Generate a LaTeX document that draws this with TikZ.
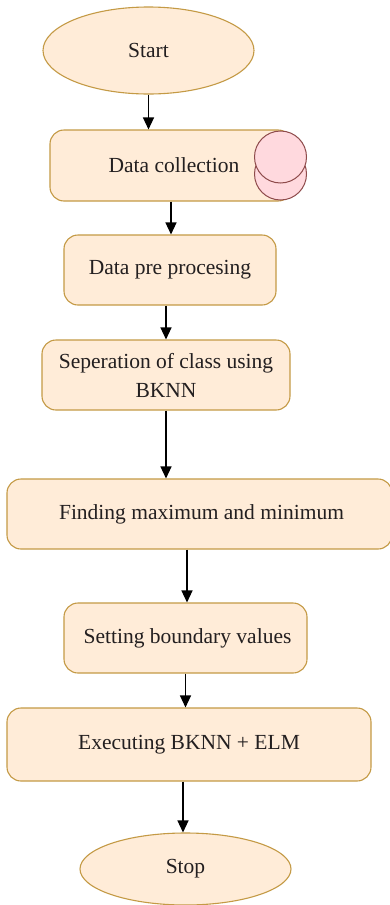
\documentclass[tikz,border=0pt]{standalone}
\usepackage{fontspec}
\setmainfont{Liberation Serif}
\newfontfamily\libserif{Liberation Serif}
\usetikzlibrary{arrows.meta,shapes.geometric}
\definecolor{boxfill}{HTML}{FFECD8}
\definecolor{boxline}{HTML}{C49A45}
\definecolor{cfill}{HTML}{FFD9DE}
\definecolor{cline}{HTML}{8E4B4B}
\definecolor{txt}{HTML}{231F20}
\begin{document}
\begin{tikzpicture}[x=1pt,y=1pt,
  every node/.style={font=\libserif\fontsize{21.5}{29}\selectfont, text=txt},
  procbox/.style={draw=boxline, fill=boxfill, line width=1.1pt, rounded corners=14pt, align=center, inner sep=0pt},
  term/.style={ellipse, draw=boxline, fill=boxfill, line width=1.1pt, inner sep=0pt},
  disk/.style={circle, draw=cline, fill=cfill, line width=1pt, minimum size=52pt, inner sep=0pt},
  arr/.style={draw=black, line width=1.3pt, -{Triangle[length=12pt,width=11pt]}}]
\useasboundingbox (0,0) rectangle (390,-905);
\fill[white] (0,0) rectangle (390,-905);

\node[term, minimum width=211pt, minimum height=87pt] (start) at (148.5,-50.5) {\raisebox{-4pt}{Start}};

\node[procbox, minimum width=242pt, minimum height=71pt] (dc) at (171,-165.5) {\hspace*{6pt}Data collection};
\node[disk] (d2) at (280.5,-174) {};
\node[disk] (d1) at (280.5,-157) {};

\node[procbox, minimum width=212pt, minimum height=70pt] (pre) at (170,-270) {Data pre procesing};

\node[procbox, minimum width=248pt, minimum height=70pt] (sep) at (166,-375) {Seperation of class using\\BKNN};

\node[procbox, minimum width=385pt, minimum height=70pt] (find) at (199.5,-514) {\hspace*{4pt}Finding maximum and minimum};

\node[procbox, minimum width=243pt, minimum height=70pt] (set) at (185.5,-638) {\hspace*{4pt}Setting boundary values};

\node[procbox, minimum width=364pt, minimum height=73pt] (exec) at (189,-744.5) {Executing BKNN + ELM};

\node[term, minimum width=211pt, minimum height=72pt] (stop) at (185.5,-869) {Stop};

\draw[arr] (start.south) -- (start.south |- dc.north);
\draw[arr] (dc.south) -- (dc.south |- pre.north);
\draw[arr] (sep.north |- pre.south) -- (sep.north);
\draw[arr] (sep.south) -- (sep.south |- find.north);
\draw[arr] ([xshift=1.5pt]set.north |- find.south) -- ([xshift=1.5pt]set.north);
\draw[arr] (set.south) -- (set.south |- exec.north);
\draw[arr] ([xshift=-2.5pt]stop.north |- exec.south) -- ([xshift=-2.5pt]stop.north);
\end{tikzpicture}
\end{document}
